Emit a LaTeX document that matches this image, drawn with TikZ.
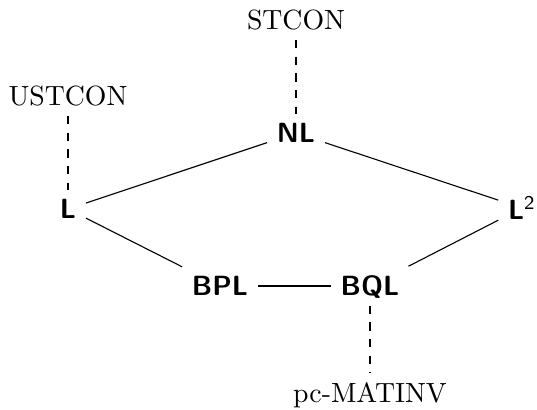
\documentclass[tikz,border=0pt]{standalone}
\begin{document}
\begin{tikzpicture}[
  x=0.36pt, y=-0.36pt,
  cls/.style={font=\sffamily\bfseries, text depth=0pt},
  prob/.style={},
  edge/.style={line width=0.4pt},
  weak/.style={line width=0.4pt, dashed}
]
\useasboundingbox (0,0) rectangle (537,410);

% complexity classes
\node[cls] (nl)  at (296,133) {NL};
\node[cls] (l)   at (68,209)  {L};
\node[cls] (l2)  at (522,208) {L\textsuperscript{\mdseries 2}};
\node[cls] (bpl) at (220,286) {BPL};
\node[cls] (bql) at (370,286) {BQL};

% complete problems
\node[prob] (stcon)  at (296,20)  {STCON};
\node[prob] (ustcon) at (68,96)   {USTCON};
\node[prob] (pcm)    at (370,395) {pc-MATINV};

% inclusions
\draw[edge] (l) -- (nl);
\draw[edge] (nl) -- (l2);
\draw[edge] (l) -- (bpl);
\draw[edge] (bpl) -- (bql);
\draw[edge] (bql) -- (l2);

% completeness
\draw[weak] (stcon) -- (nl);
\draw[weak] (ustcon) -- (l);
\draw[weak] (bql) -- (pcm);
\end{tikzpicture}
\end{document}
